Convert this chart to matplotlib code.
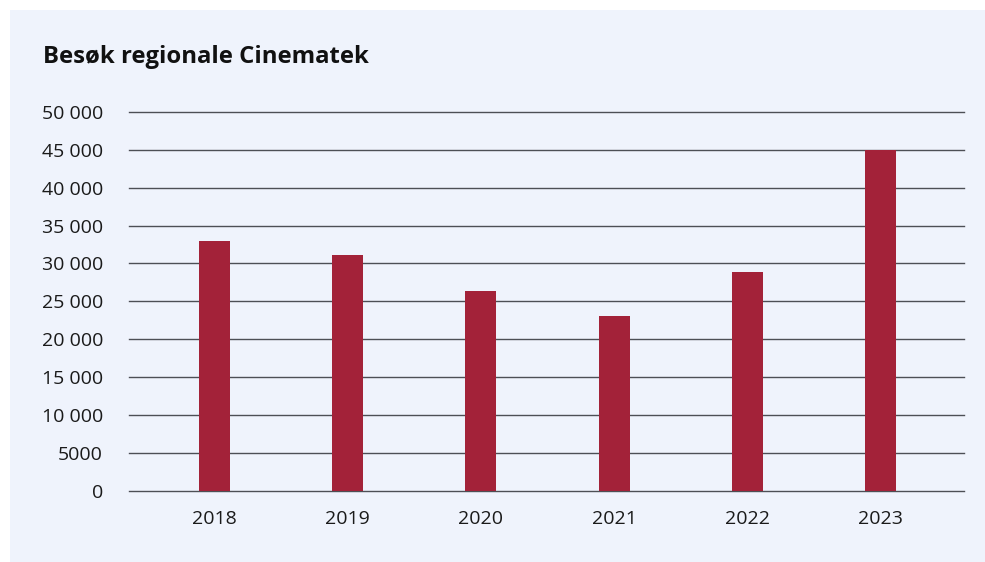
import numpy as np
import matplotlib.pyplot as plt
from matplotlib.patches import Rectangle
import matplotlib.ticker as tck

years = ['2018', '2019', '2020', '2021', '2022', '2023']
visits = [33000, 31100, 26400, 23050, 28900, 45000]
yticks = [0, 5000, 10000, 15000, 20000, 25000, 30000, 35000, 40000, 45000, 50000]
title = 'Besøk regionale Cinematek'

bar_color = '#a32239'
panel_color = '#eff3fc'
grid_color = '#4d4f55'


def fmt(v, pos):
    if v < 10000:
        return '%d' % v
    return '{:,}'.format(int(v)).replace(',', ' ')


def main():
    plt.rcParams['font.family'] = ['Open Sans', 'DejaVu Sans']
    fig = plt.figure(figsize=(9.85, 5.62), dpi=100)
    W, H = 985, 562

    # light panel behind everything
    fig.patches.append(Rectangle((10 / W, -0.05), 1.1, 1 - 10 / H + 0.05,
                                 transform=fig.transFigure, facecolor=panel_color,
                                 linewidth=0, zorder=0))

    fig.text(43 / W, 1 - 63 / H, title, fontsize=17.2, fontweight='bold',
             color='#111111', va='baseline', ha='left')

    ax = fig.add_axes([129 / W, 1 - 490.7 / H, (964 - 129) / W, (490.7 - 112) / H])
    ax.set_zorder(2)
    ax.set_facecolor('none')

    x = np.arange(len(years))
    ax.bar(x, visits, width=0.233, color=bar_color, zorder=3)

    ax.set_ylim(0, 50000)
    ax.set_xlim(-0.642, 5.627)
    ax.set_yticks(yticks)
    ax.yaxis.set_major_formatter(tck.FuncFormatter(fmt))
    ax.set_xticks(x)
    ax.set_xticklabels(years)
    ax.grid(axis='y', color=grid_color, linewidth=1.0, zorder=1)
    for gl in ax.get_ygridlines():
        gl.set_clip_on(False)
    ax.set_axisbelow(True)
    for s in ax.spines.values():
        s.set_visible(False)
    ax.tick_params(axis='y', length=0, pad=18.7, labelsize=14, labelcolor='#1a1a1a')
    ax.tick_params(axis='x', length=0, pad=14, labelsize=14, labelcolor='#1a1a1a')

    plt.savefig('out.png', dpi=100)
    plt.close()


if __name__ == '__main__':
    main()
